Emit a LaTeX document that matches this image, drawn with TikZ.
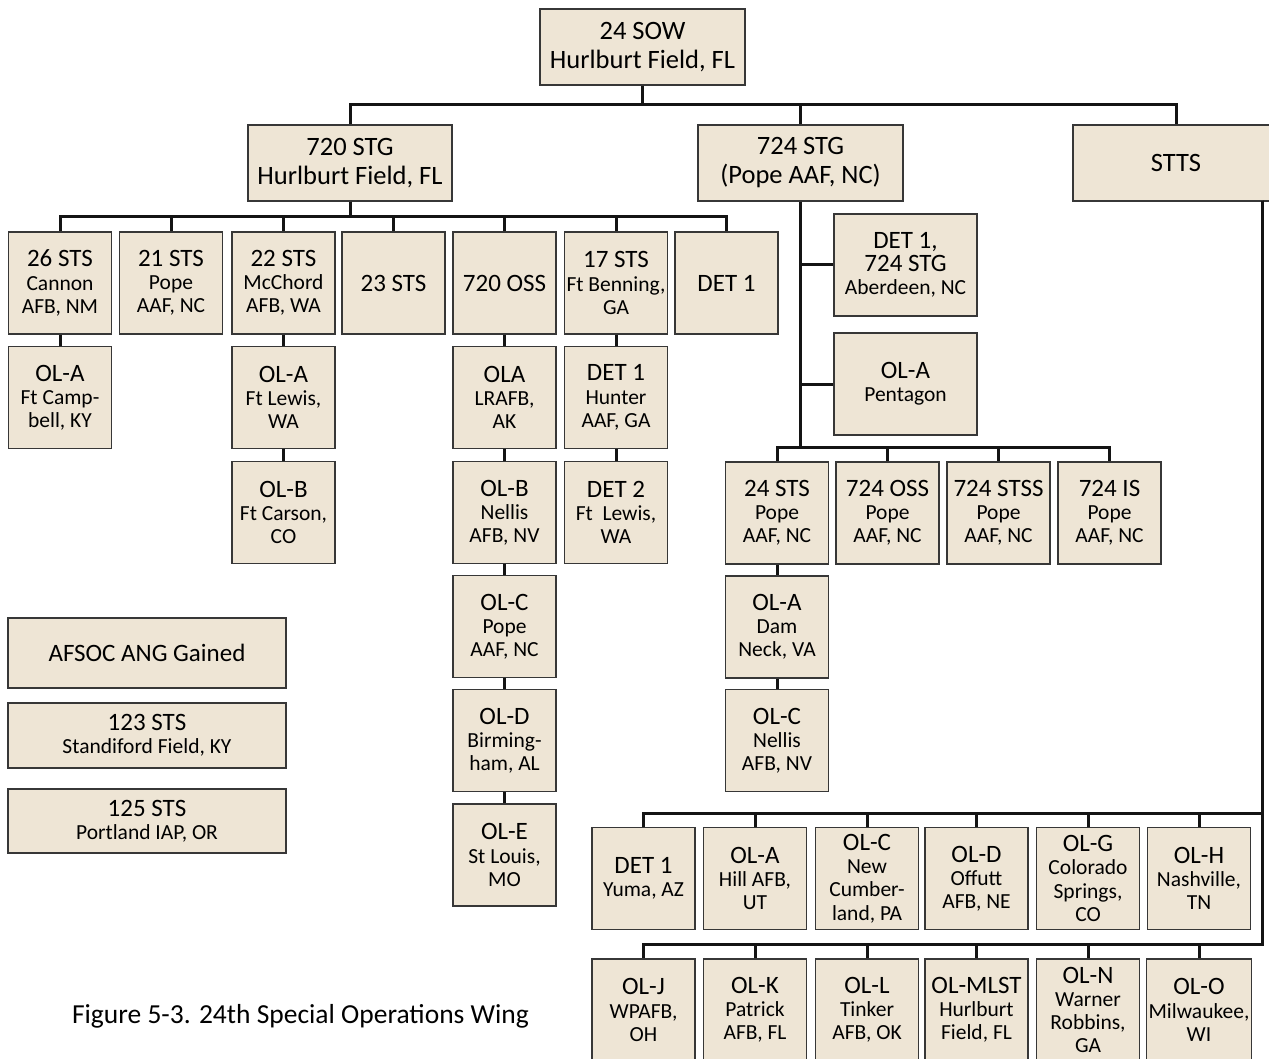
\documentclass[tikz,border=0pt]{standalone}
\usepackage{fontspec}
\setmainfont{Carlito}
\definecolor{boxfill}{RGB}{238,229,213}
\definecolor{boxline}{RGB}{55,55,55}
\definecolor{linkblack}{RGB}{20,20,20}
\usepackage{tikz}
\usetikzlibrary{positioning}
\usepackage{xcolor}
\newcommand{\hd}[1]{{\fontsize{25}{25}\selectfont #1}}
\tikzset{
  unit/.style={draw=boxline, fill=boxfill, line width=1.6pt, inner sep=2pt,
               minimum width=103pt, minimum height=102pt, align=center,
               font=\fontsize{21.5}{23.2}\selectfont},
  head/.style={unit, minimum height=76pt, font=\fontsize{26.5}{29}\selectfont},
  side/.style={unit, minimum width=278pt},
  link/.style={draw=linkblack, line width=3pt}
}

\begin{document}
\begin{tikzpicture}[x=1pt, y=-1pt]
      \useasboundingbox (0,0) rectangle (1269,1059);
      \node[head, minimum width=205pt] (sow) at (642.5,47) {24 SOW\\Hurlburt Field, FL};
      \node[head, minimum width=204pt] (stgA) at (350,163) {720 STG\\Hurlburt Field, FL};
      \node[head, minimum width=205pt] (stgB) at (800.5,163) {724 STG\\(Pope AAF, NC)};
      \node[head, minimum width=206pt] (stts) at (1176,163) {STTS};
      \foreach \n/\x/\t in {sts26/60/{\hd{26 STS}\\Cannon\\AFB, NM},
                            sts21/171/{\hd{21 STS}\\Pope\\AAF, NC},
                            sts22/283.5/{\hd{22 STS}\\McChord\\AFB, WA},
                            sts23/393.5/{\hd{23 STS}},
                            oss720/504.5/{\hd{720 OSS}},
                            sts17/616/{\hd{17 STS}\\Ft Benning,\\GA},
                            det720/726.5/{\hd{DET 1}}}
        \node[unit] (\n) at (\x,283) {\t};
      \foreach \n/\x/\y/\t in {olA26/60/397.5/{\hd{OL-A}\\Ft Camp-\\bell, KY},
                               olA22/283.5/397.5/{\hd{OL-A}\\Ft Lewis,\\WA},
                               olB22/283.5/512.5/{\hd{OL-B}\\Ft Carson,\\CO},
                               olaOss/504.5/397.5/{\hd{OLA}\\LRAFB,\\AK},
                               olbOss/504.5/512.5/{\hd{OL-B}\\Nellis\\AFB, NV},
                               olcOss/504.5/626.5/{\hd{OL-C}\\Pope\\AAF, NC},
                               oldOss/504.5/740.5/{\hd{OL-D}\\Birming-\\ham, AL},
                               oleOss/504.5/855/{\hd{OL-E}\\St Louis,\\MO},
                               det17/616/397.5/{\hd{DET 1}\\Hunter\\AAF, GA},
                               detTwo17/616/512.5/{\hd{DET 2}\\Ft~~Lewis,\\WA}}
        \node[unit] (\n) at (\x,\y) {\t};
      \node[unit, minimum width=143pt] (det724) at (905.5,265) {\hd{DET 1,}\\\hd{724 STG}\\Aberdeen, NC};
      \node[unit, minimum width=143pt] (olPent) at (905.5,384) {\hd{OL-A}\\Pentagon};
      \foreach \n/\x/\t in {sts24/777/{\hd{24 STS}\\Pope\\AAF, NC},
                            oss724/887.5/{\hd{724 OSS}\\Pope\\AAF, NC},
                            stss724/998.5/{\hd{724 STSS}\\Pope\\AAF, NC},
                            is724/1109.5/{\hd{724 IS}\\Pope\\AAF, NC}}
        \node[unit] (\n) at (\x,513) {\t};
      \node[unit] (olDam) at (777,627) {\hd{OL-A}\\Dam\\Neck, VA};
      \node[unit] (olNellis) at (777,740.5) {\hd{OL-C}\\Nellis\\AFB, NV};
      \foreach \n/\x/\t in {detYuma/643.5/{\hd{DET 1}\\Yuma, AZ},
                            olHill/755/{\hd{OL-A}\\Hill AFB,\\UT},
                            olNewC/867/{\hd{OL-C}\\New\\Cumber-\\land, PA},
                            olOffutt/976.5/{\hd{OL-D}\\Offutt\\AFB, NE},
                            olColo/1088/{\hd{OL-G}\\Colorado\\Springs,\\CO},
                            olNash/1199/{\hd{OL-H}\\Nashville,\\TN}}
        \node[unit] (\n) at (\x,878.5) {\t};
      \foreach \n/\x/\t in {olWpafb/643.5/{\hd{OL-J}\\WPAFB,\\OH},
                            olPatrick/755/{\hd{OL-K}\\Patrick\\AFB, FL},
                            olTinker/867/{\hd{OL-L}\\Tinker\\AFB, OK},
                            olMlst/976.5/{\hd{OL-MLST}\\Hurlburt\\Field, FL},
                            olWarner/1088/{\hd{OL-N}\\Warner\\Robbins,\\GA},
                            olMilw/1199/{\hd{OL-O}\\Milwaukee,\\WI}}
        \node[unit] (\n) at (\x,1010) {\t};
      \node[side, minimum height=70pt] (afsoc) at (147,653) {\hd{AFSOC ANG Gained}};
      \node[side, minimum height=65pt] (sts123) at (147,735.5) {\hd{123 STS}\\Standiford Field, KY};
      \node[side, minimum height=64pt] (sts125) at (147,821) {\hd{125 STS}\\Portland IAP, OR};
      \node[font=\fontsize{27.5}{30}\selectfont] (caption) at (300.5,1016) {Figure 5-3. 24th Special Operations Wing};
      \coordinate (sttsrail) at (1262,201);
      \foreach \c in {stgA, stgB, stts}
        \draw[link] (sow.south) -- ++(0,19) -| (\c.north);
      \foreach \c in {sts26, sts21, sts22, sts23, oss720, sts17, det720}
        \draw[link] (stgA.south) -- ++(0,15) -| (\c.north);
      \foreach \c in {sts24, oss724, stss724, is724}
        \draw[link] (stgB.south) -- ++(0,246) -| (\c.north);
      \foreach \c in {det724, olPent}
        \draw[link] (stgB.south |- \c.west) -- (\c.west);
      \foreach \c in {detYuma, olHill, olNewC, olOffutt, olColo, olNash}
        \draw[link] (sttsrail) -- ++(0,612) -| (\c.north);
      \foreach \c in {olWpafb, olPatrick, olTinker, olMlst, olWarner, olMilw}
        \draw[link] (sttsrail) -- ++(0,743) -| (\c.north);
      \foreach \a/\b in {sts26/olA26, sts22/olA22, olA22/olB22, oss720/olaOss,
                         olaOss/olbOss, olbOss/olcOss, olcOss/oldOss, oldOss/oleOss,
                         sts17/det17, det17/detTwo17, sts24/olDam, olDam/olNellis}
        \draw[link] (\a) -- (\b);
    \end{tikzpicture}
\end{document}
